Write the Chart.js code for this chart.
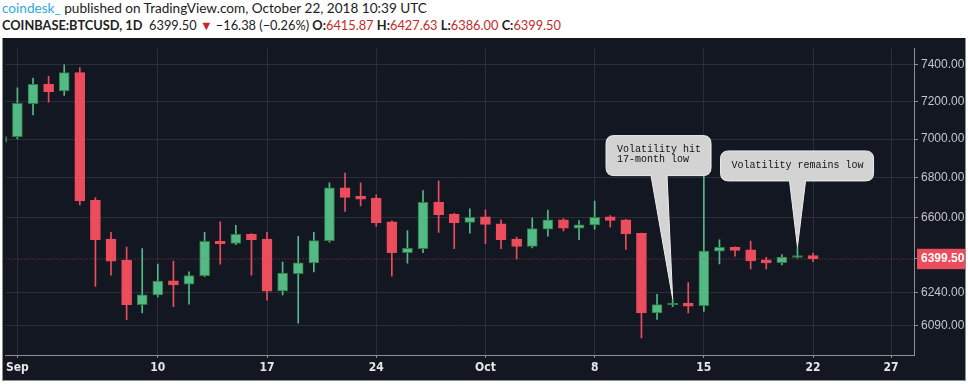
<!DOCTYPE html>
<html>
<head>
<meta charset="utf-8">
<script src="https://cdn.jsdelivr.net/npm/chart.js@4.4.1/dist/chart.umd.min.js"></script>
<style>
	html, body { margin: 0; padding: 0; background: #fff; width: 968px; height: 388px; overflow: hidden; }
	.hdr { position: absolute; left: 2px; white-space: nowrap; font-family: Lato, 'Open Sans', sans-serif; color: #222; }
	#line1 { top: 0px; font-size: 13.6px; }
	#line2 { top: 17px; font-size: 12.8px; }
	.brand { color: #2ea8dc; }
	.b { font-weight: bold; }
	.r { color: #c62828; }
	#panel { position: absolute; left: 2px; top: 38px; width: 962px; height: 342px; background: #131722;
		border-left: 1px solid #8c8f96; border-right: 1px solid #8c8f96; border-bottom: 1px solid #8c8f96; }
	canvas { display: block; }
</style>
</head>
<body>
<div class="hdr" id="line1"><span class="brand">coindesk_</span> published on TradingView.com, October 22, 2018 10:39 UTC</div>
<div class="hdr" id="line2"><span class="b">COINBASE:BTCUSD, 1D</span>&nbsp; 6399.50 <span class="r">&#9660;</span> &minus;16.38 (&minus;0.26%) <span class="b">O:</span><span class="r">6415.87</span> <span class="b">H:</span><span class="r">6427.63</span> <span class="b">L:</span><span class="r">6386.00</span> <span class="b">C:</span><span class="r">6399.50</span></div>
<div id="panel"><canvas id="chart" width="962" height="342"></canvas></div>
<script>
//daily candles, Coinbase BTC/USD (last one still open at publish time)
const dates = [
	'2018-08-31','2018-09-01','2018-09-02','2018-09-03','2018-09-04','2018-09-05','2018-09-06','2018-09-07',
	'2018-09-08','2018-09-09','2018-09-10','2018-09-11','2018-09-12','2018-09-13','2018-09-14','2018-09-15',
	'2018-09-16','2018-09-17','2018-09-18','2018-09-19','2018-09-20','2018-09-21','2018-09-22','2018-09-23',
	'2018-09-24','2018-09-25','2018-09-26','2018-09-27','2018-09-28','2018-09-29','2018-09-30','2018-10-01',
	'2018-10-02','2018-10-03','2018-10-04','2018-10-05','2018-10-06','2018-10-07','2018-10-08','2018-10-09',
	'2018-10-10','2018-10-11','2018-10-12','2018-10-13','2018-10-14','2018-10-15','2018-10-16','2018-10-17',
	'2018-10-18','2018-10-19','2018-10-20','2018-10-21','2018-10-22'
];
const open = [
	6984, 7013, 7187, 7294, 7256, 7356, 6686, 6495,
	6394, 6185, 6230, 6296, 6280, 6320, 6485, 6474,
	6519, 6495, 6248, 6330, 6381, 6488, 6749, 6706,
	6696, 6580, 6430, 6449, 6678, 6618, 6577, 6604,
	6570, 6495, 6460, 6544, 6589, 6549, 6565, 6604,
	6589, 6523, 6146, 6184, 6191, 6180, 6437, 6455,
	6443, 6395, 6382, 6407, 6415.87
];
const high = [
	7040, 7273, 7326, 7336, 7400, 7384, 6700, 6528,
	6457, 6449, 6375, 6389, 6338, 6528, 6580, 6562,
	6522, 6528, 6384, 6509, 6528, 6774, 6824, 6774,
	6714, 6585, 6537, 6735, 6784, 6622, 6644, 6639,
	6589, 6505, 6599, 6638, 6596, 6586, 6682, 6610,
	6592, 6525, 6232, 6212, 6287, 6815, 6492, 6458,
	6486, 6407, 6421, 6457, 6427.63
];
const low = [
	6960, 7000, 7128, 7196, 7232, 6663, 6270, 6322,
	6115, 6146, 6220, 6175, 6187, 6315, 6375, 6468,
	6322, 6205, 6230, 6099, 6338, 6480, 6631, 6658,
	6557, 6318, 6379, 6430, 6528, 6449, 6524, 6473,
	6449, 6398, 6452, 6510, 6535, 6492, 6544, 6554,
	6445, 6033, 6117, 6175, 6146, 6153, 6376, 6413,
	6352, 6352, 6371, 6403, 6386
];
const close = [
	7013, 7189, 7292, 7253, 7356, 6684, 6493, 6389,
	6184, 6230, 6294, 6277, 6320, 6485, 6473, 6519,
	6492, 6247, 6332, 6381, 6488, 6749, 6701, 6692,
	6576, 6430, 6451, 6676, 6615, 6576, 6602, 6567,
	6492, 6460, 6546, 6589, 6548, 6565, 6602, 6587,
	6520, 6146, 6185, 6191, 6178, 6437, 6455, 6441,
	6390, 6381, 6409, 6415.87, 6399.5
];

//axis ticks
const xTickDates = ['2018-09-01','2018-09-10','2018-09-17','2018-09-24','2018-10-01','2018-10-08','2018-10-15','2018-10-22','2018-10-27'];
const xTickLabels = ['Sep','10','17','24','Oct','8','15','22','27'];
const yTicks = [7400, 7200, 7000, 6800, 6600, 6399.5, 6240, 6090];

//callouts
const noteLines = [['Volatility hit', '17-month low'], ['Volatility remains low']];
const noteTipDates = ['2018-10-13', '2018-10-21'];
const noteBoxDates = ['2018-10-08', '2018-10-16'];

const UP = '#53b987', UP_EDGE = '#2f7f3a', DOWN = '#eb4d5c';
const DAY = 864e5;
const day0 = Date.parse('2018-09-01');
const toDay = d => (Date.parse(d) - day0) / DAY;

const lastClose = close[close.length - 1];
const xMin = -0.754, xMax = 57.47;
const yMin = 5956, yMax = 7492;

const isUp = i => close[i] >= open[i];
const bodies = dates.map((d, i) => ({x: toDay(d), y: [open[i], close[i]]}));
const wicks = dates.map((d, i) => ({x: toDay(d), y: [low[i], high[i]]}));

//speech-bubble callouts, anchored to the candle highs
const callouts = {
	id: 'callouts',
	afterDatasetsDraw(chart) {
		const {ctx, scales: {x, y}} = chart;
		const boxes = [
			{w: 105, h: 40, top: 7018, dx: 0.73, base: [45, 61]},
			{w: 153, h: 30, top: 6938, dx: 0.07, base: [69, 85]}
		];
		ctx.save();
		noteLines.forEach((lines, n) => {
			const b = boxes[n];
			const left = x.getPixelForValue(toDay(noteBoxDates[n]) + b.dx);
			const top = y.getPixelForValue(b.top);
			const tipX = x.getPixelForValue(toDay(noteTipDates[n]));
			const tipY = y.getPixelForValue(high[dates.indexOf(noteTipDates[n])]);
			const r = 8, right = left + b.w, bottom = top + b.h;

			ctx.beginPath();
			ctx.moveTo(left + r, top);
			ctx.lineTo(right - r, top);
			ctx.quadraticCurveTo(right, top, right, top + r);
			ctx.lineTo(right, bottom - r);
			ctx.quadraticCurveTo(right, bottom, right - r, bottom);
			ctx.lineTo(left + b.base[1], bottom);
			ctx.lineTo(tipX, tipY);
			ctx.lineTo(left + b.base[0], bottom);
			ctx.lineTo(left + r, bottom);
			ctx.quadraticCurveTo(left, bottom, left, bottom - r);
			ctx.lineTo(left, top + r);
			ctx.quadraticCurveTo(left, top, left + r, top);
			ctx.closePath();
			ctx.fillStyle = '#d3d3d3';
			ctx.fill();
			ctx.strokeStyle = '#eeeeee';
			ctx.lineWidth = 1;
			ctx.stroke();

			ctx.fillStyle = '#111111';
			ctx.font = '10px "Liberation Mono", "DejaVu Sans Mono", monospace';
			ctx.textBaseline = 'middle';
			lines.forEach((txt, k) => ctx.fillText(txt, left + 11, top + 14 + k * 10));
		});
		ctx.restore();
	}
};

const ctx = document.querySelector('#chart').getContext('2d');

const chart = new Chart(ctx, {
	type: 'bar',
	plugins: [callouts],
	data: {
		datasets: [
			{
				type: 'line',
				data: [{x: xMin, y: lastClose}, {x: xMax, y: lastClose}],
				borderColor: 'rgba(235, 77, 92, 0.6)',
				borderWidth: 1,
				borderDash: [1, 2],
				pointRadius: 0,
				order: -1
			},
			{
				data: bodies,
				grouped: false,
				barThickness: 10,
				borderSkipped: false,
				borderWidth: 1,
				backgroundColor: c => isUp(c.dataIndex) ? UP : DOWN,
				borderColor: c => isUp(c.dataIndex) ? UP_EDGE : DOWN,
				order: 0
			},
			{
				data: wicks,
				grouped: false,
				barThickness: 1,
				borderWidth: 0,
				backgroundColor: c => isUp(c.dataIndex) ? UP : DOWN,
				order: 1
			}
		]
	},
	options: {
		responsive: false,
		devicePixelRatio: 1,
		animation: false,
		layout: {padding: 0},
		plugins: {legend: {display: false}, tooltip: {enabled: false}},
		scales: {
			x: {
				type: 'linear',
				offset: false,
				min: xMin,
				max: xMax,
				afterBuildTicks: s => { s.ticks = xTickDates.map(d => ({value: toDay(d)})); },
				afterFit: s => { s.height = 25; },
				grid: {offset: false, color: '#2a2e39', tickColor: '#8c8f96', tickLength: 3},
				border: {color: '#8c8f96'},
				ticks: {
					autoSkip: false,
					maxRotation: 0,
					padding: 3,
					color: '#e6e6e6',
					font: {family: "'Liberation Sans Narrow', 'DejaVu Sans Condensed', Arial", size: 12, weight: 'bold'},
					callback: (v, i) => xTickLabels[i]
				}
			},
			y: {
				type: 'logarithmic',
				position: 'right',
				min: yMin,
				max: yMax,
				afterBuildTicks: s => { s.ticks = yTicks.map(v => ({value: v})); },
				afterFit: s => { s.width = 51; },
				grid: {
					color: c => c.tick && c.tick.value === lastClose ? 'transparent' : '#2a2e39',
					tickColor: '#8c8f96',
					tickLength: 4
				},
				border: {color: '#8c8f96'},
				ticks: {
					padding: 3,
					color: c => c.tick.value === lastClose ? '#ffffff' : '#c3c6ce',
					font: c => ({family: 'Arial, "Liberation Sans"', size: 12, weight: c.tick.value === lastClose ? 'bold' : 'normal'}),
					showLabelBackdrop: c => c.tick.value === lastClose,
					backdropColor: DOWN,
					backdropPadding: {left: 4, right: 6, top: 3, bottom: 3},
					callback: v => v.toFixed(2)
				}
			}
		}
	}
});
</script>
</body>
</html>
